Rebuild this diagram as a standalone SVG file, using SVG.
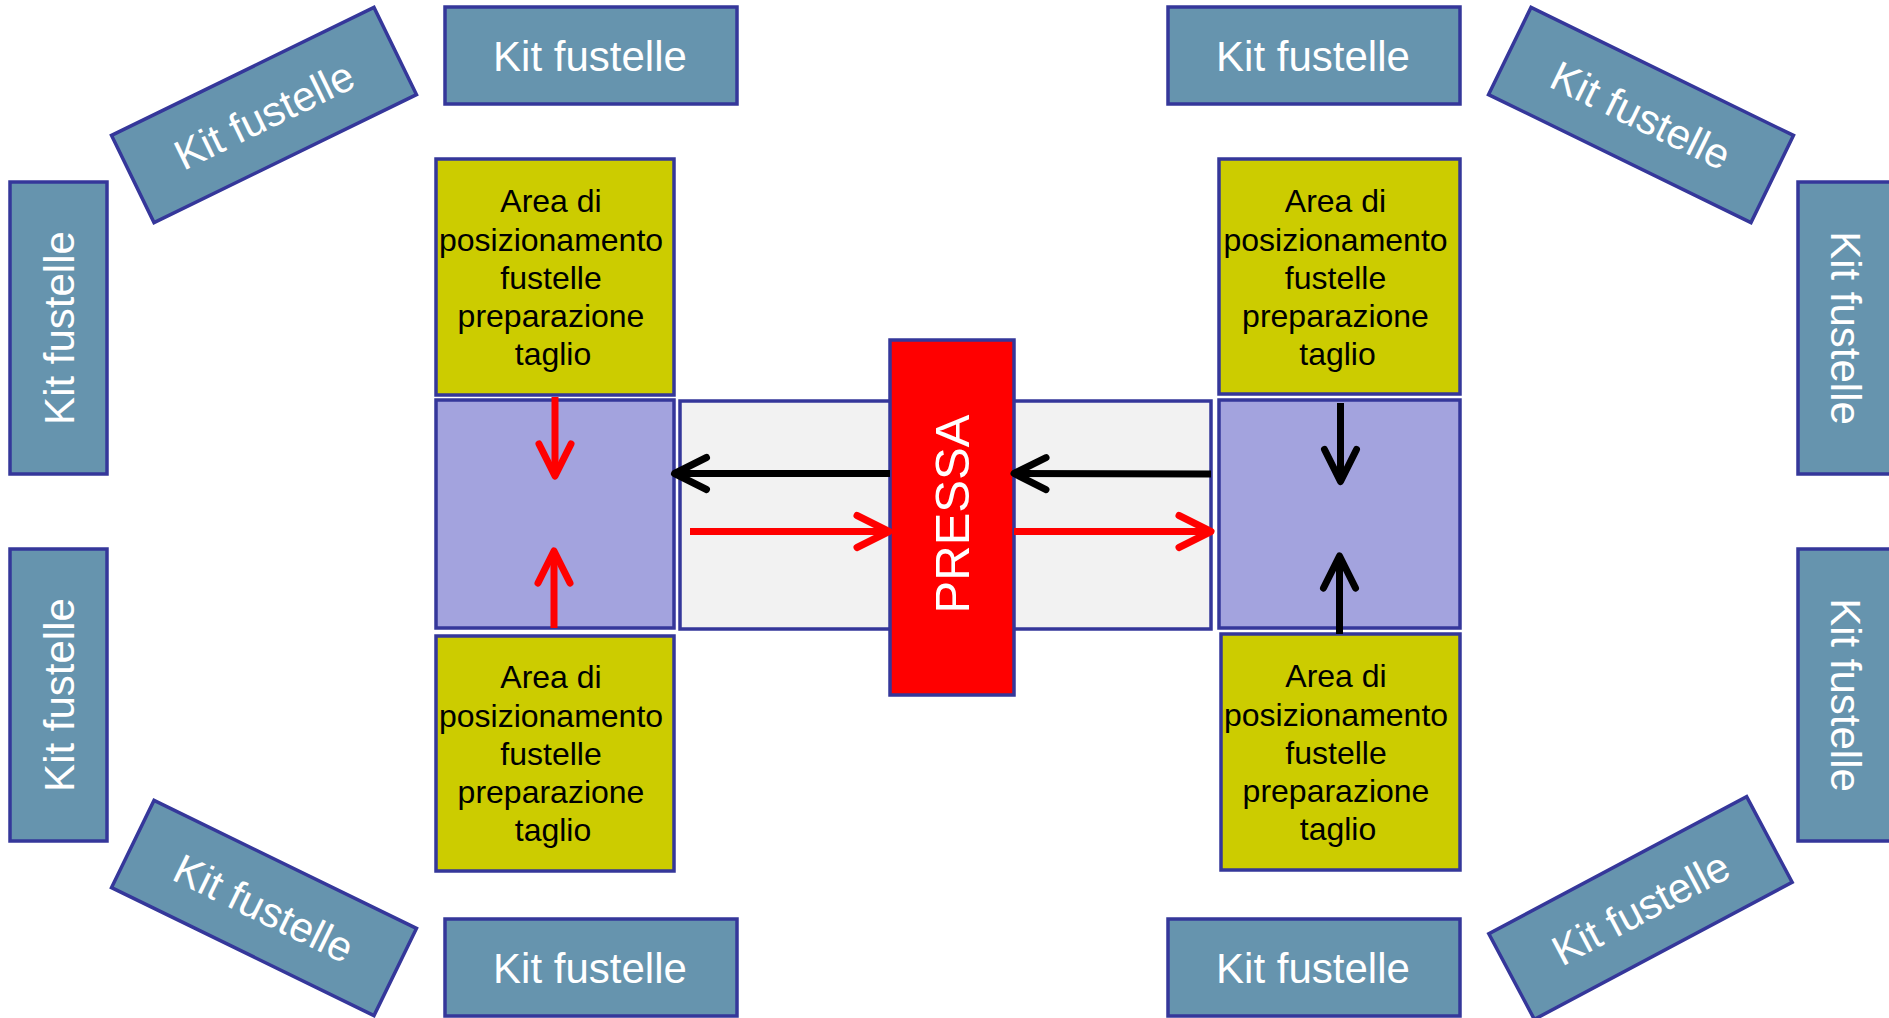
<svg xmlns="http://www.w3.org/2000/svg" width="1889" height="1018" viewBox="0 0 1889 1018">
<style>
.kit{fill:#6694AE;stroke:#35379A;stroke-width:3.5}
.kt{font-family:"Liberation Sans",Arial,sans-serif;font-size:42px;fill:#ffffff;text-anchor:middle}
.area{fill:#CCCC00;stroke:#35379A;stroke-width:3.5}
.at{font-family:"Liberation Sans",Arial,sans-serif;font-size:32px;fill:#000000;text-anchor:middle}
.pur{fill:#A3A3DE;stroke:#35379A;stroke-width:3.5}
.gray{fill:#F2F2F2;stroke:#35379A;stroke-width:3.5}
.press{fill:#FF0000;stroke:#35379A;stroke-width:3.5}
.pt{font-family:"Liberation Sans",Arial,sans-serif;font-size:49px;fill:#ffffff;text-anchor:middle}
.ar{fill:none;stroke:#FF0000;stroke-width:7}
.ab{fill:none;stroke:#000000;stroke-width:7}
</style>
<defs>
<marker id="mr" markerUnits="userSpaceOnUse" markerWidth="40" markerHeight="40" refX="0" refY="0" orient="auto" overflow="visible">
<path d="M-29,-16 L3,0 L-29,16" fill="none" stroke="#FF0000" stroke-width="7" stroke-linecap="round" stroke-linejoin="round"/>
</marker>
<marker id="mb" markerUnits="userSpaceOnUse" markerWidth="40" markerHeight="40" refX="0" refY="0" orient="auto" overflow="visible">
<path d="M-29,-16 L3,0 L-29,16" fill="none" stroke="#000000" stroke-width="7" stroke-linecap="round" stroke-linejoin="round"/>
</marker>
</defs>
<rect width="1889" height="1018" fill="#ffffff"/>

<g id="kit-top-left-h"><rect class="kit" x="445" y="7" width="292" height="97"/><text class="kt" x="590" y="71">Kit fustelle</text></g>
<g id="kit-top-right-h"><rect class="kit" x="1168" y="7" width="292" height="97"/><text class="kt" x="1313" y="71">Kit fustelle</text></g>
<g id="kit-bottom-left-h"><rect class="kit" x="445" y="919" width="292" height="97"/><text class="kt" x="590" y="983">Kit fustelle</text></g>
<g id="kit-bottom-right-h"><rect class="kit" x="1168" y="919" width="292" height="97"/><text class="kt" x="1313" y="983">Kit fustelle</text></g>

<g id="kit-left-top-v"><rect class="kit" x="10" y="182" width="97" height="292"/><text class="kt" transform="translate(74,328) rotate(-90)">Kit fustelle</text></g>
<g id="kit-left-bottom-v"><rect class="kit" x="10" y="549" width="97" height="292"/><text class="kt" transform="translate(74,695) rotate(-90)">Kit fustelle</text></g>
<g id="kit-right-top-v"><rect class="kit" x="1798" y="182" width="97" height="292"/><text class="kt" transform="translate(1831,328) rotate(90)">Kit fustelle</text></g>
<g id="kit-right-bottom-v"><rect class="kit" x="1798" y="549" width="97" height="292"/><text class="kt" transform="translate(1831,695) rotate(90)">Kit fustelle</text></g>

<g id="kit-tilt-top-left" transform="translate(264,115) rotate(-26)"><rect class="kit" x="-146" y="-48.5" width="292" height="97"/><text class="kt" x="0" y="15">Kit fustelle</text></g>
<g id="kit-tilt-top-right" transform="translate(1641,115) rotate(26)"><rect class="kit" x="-146" y="-48.5" width="292" height="97"/><text class="kt" x="0" y="15">Kit fustelle</text></g>
<g id="kit-tilt-bottom-left" transform="translate(264,908) rotate(26)"><rect class="kit" x="-146" y="-48.5" width="292" height="97"/><text class="kt" x="0" y="15">Kit fustelle</text></g>
<g id="kit-tilt-bottom-right" transform="translate(1640.5,908) rotate(-28)"><rect class="kit" x="-146" y="-48.5" width="292" height="97"/><text class="kt" x="0" y="15">Kit fustelle</text></g>

<g id="area-top-left"><rect class="area" x="436" y="159" width="238" height="236"/>
<text class="at"><tspan x="551" y="212">Area di</tspan><tspan x="551" y="250.5">posizionamento</tspan><tspan x="551" y="289">fustelle</tspan><tspan x="551" y="327">preparazione</tspan><tspan x="553" y="365">taglio</tspan></text></g>
<g id="area-top-right"><rect class="area" x="1219" y="159" width="241" height="235"/>
<text class="at"><tspan x="1335.5" y="212">Area di</tspan><tspan x="1335.5" y="250.5">posizionamento</tspan><tspan x="1335.5" y="289">fustelle</tspan><tspan x="1335.5" y="327">preparazione</tspan><tspan x="1337.5" y="365">taglio</tspan></text></g>
<g id="area-bottom-left"><rect class="area" x="436" y="636" width="238" height="235"/>
<text class="at"><tspan x="551" y="688">Area di</tspan><tspan x="551" y="726.5">posizionamento</tspan><tspan x="551" y="765">fustelle</tspan><tspan x="551" y="803">preparazione</tspan><tspan x="553" y="841">taglio</tspan></text></g>
<g id="area-bottom-right"><rect class="area" x="1221" y="634" width="239" height="236"/>
<text class="at"><tspan x="1336" y="687">Area di</tspan><tspan x="1336" y="725.5">posizionamento</tspan><tspan x="1336" y="764">fustelle</tspan><tspan x="1336" y="802">preparazione</tspan><tspan x="1338" y="840">taglio</tspan></text></g>

<g id="transfer-left"><rect class="pur" x="436" y="400" width="238" height="228"/></g>
<g id="transfer-right"><rect class="pur" x="1219" y="400" width="241" height="228"/></g>
<g id="conveyor"><rect class="gray" x="680" y="401" width="531" height="228"/></g>
<g id="pressa"><rect class="press" x="890" y="340" width="124" height="355"/><text class="pt" transform="translate(969,514) rotate(-90)">PRESSA</text></g>

<g id="connectors">
<line class="ab" x1="890" y1="473.5" x2="677.5" y2="473.5" marker-end="url(#mb)"/>
<line class="ar" x1="690" y1="531.5" x2="886" y2="531.5" marker-end="url(#mr)"/>
<line class="ab" x1="1211" y1="474" x2="1017" y2="473.5" marker-end="url(#mb)"/>
<line class="ar" x1="1014" y1="531.5" x2="1208" y2="531.5" marker-end="url(#mr)"/>
<line class="ar" x1="555" y1="397" x2="555" y2="473" marker-end="url(#mr)"/>
<line class="ar" x1="554" y1="628" x2="554" y2="554" marker-end="url(#mr)"/>
<line class="ab" x1="1340.5" y1="403" x2="1340.5" y2="478.5" marker-end="url(#mb)"/>
<line class="ab" x1="1339.5" y1="634" x2="1339.5" y2="559" marker-end="url(#mb)"/>
</g>
</svg>
